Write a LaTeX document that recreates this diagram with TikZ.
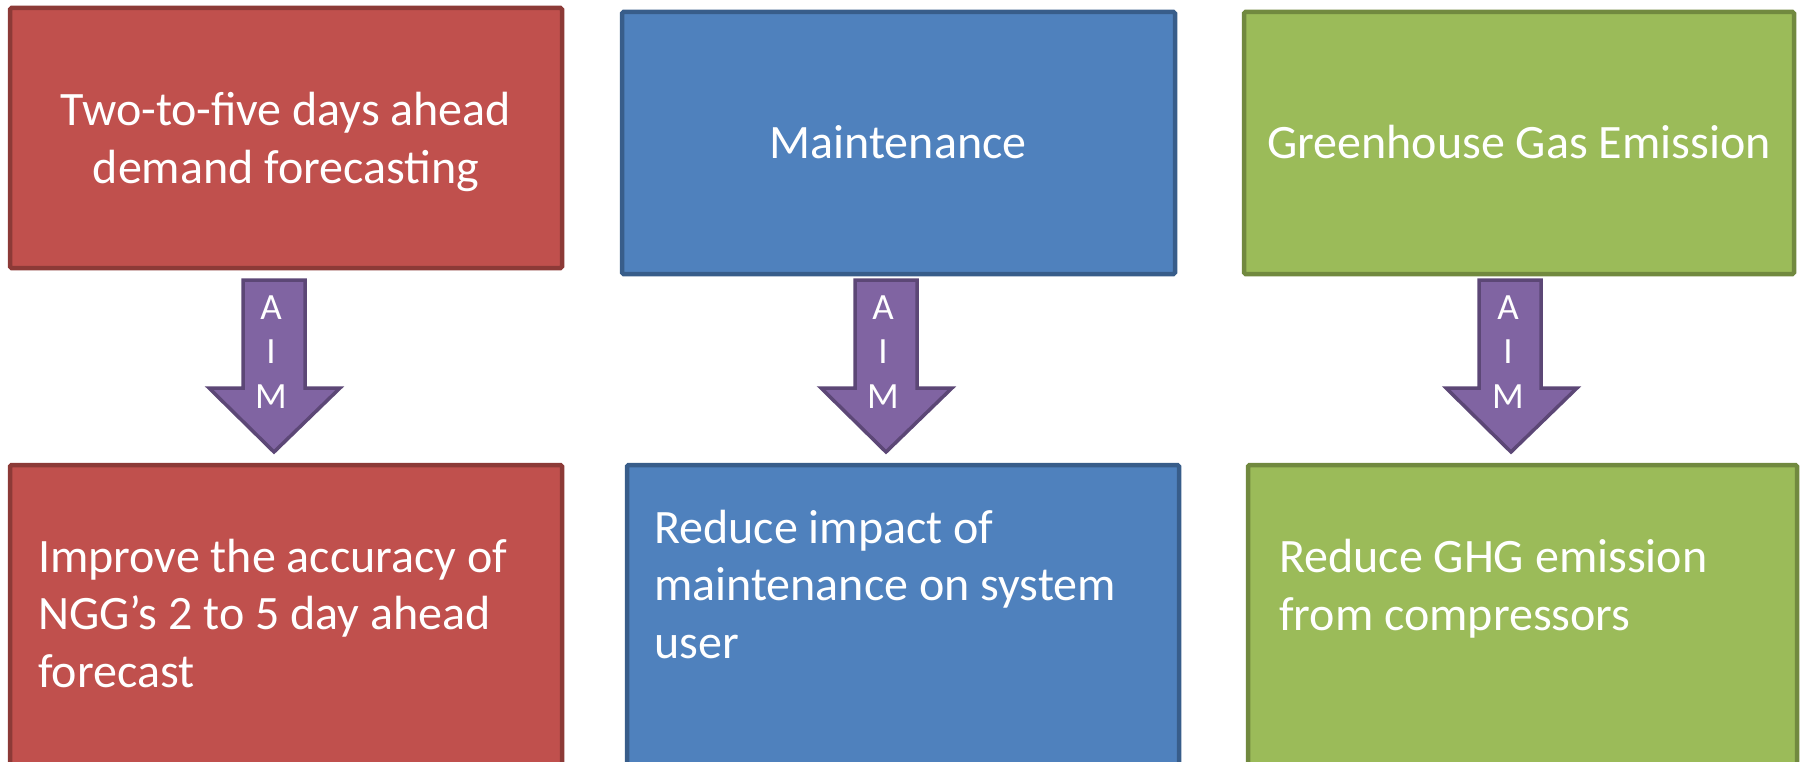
\documentclass[tikz,border=0pt]{standalone}
\usepackage{fontspec}
\setmainfont{Carlito}
\definecolor{redfill}{HTML}{C0504D}
\definecolor{redline}{HTML}{8C3A37}
\definecolor{bluefill}{HTML}{4F81BD}
\definecolor{blueline}{HTML}{385D8A}
\definecolor{greenfill}{HTML}{9BBB59}
\definecolor{greenline}{HTML}{71893F}
\definecolor{purplefill}{HTML}{8064A2}
\definecolor{purpleline}{HTML}{5C4776}
\tikzset{
  box/.style={line width=4.5pt, rounded corners=1.5pt},
  redbox/.style={box, draw=redline, fill=redfill},
  bluebox/.style={box, draw=blueline, fill=bluefill},
  greenbox/.style={box, draw=greenline, fill=greenfill},
  aimarrow/.style={draw=purpleline, fill=purplefill, line width=3.5pt, line join=miter},
  bigtext/.style={text=white, inner sep=0pt, font=\fontsize{48}{57.5}\selectfont},
  aimtext/.style={text=white, inner sep=0pt, align=center, font=\fontsize{37}{44.5}\selectfont},
}
\begin{document}
\begin{tikzpicture}[x=1pt, y=-1pt]
\clip (0,0) rectangle (1803,762);
% top boxes
\draw[redbox] (10,8) rectangle (562,268);
\draw[bluebox] (622,12) rectangle (1175,274);
\draw[greenbox] (1244,12) rectangle (1794,274);
% bottom boxes
\draw[redbox] (10,465) rectangle (562,820);
\draw[bluebox] (627,465) rectangle (1179,820);
\draw[greenbox] (1248,465) rectangle (1797,820);
% arrows
\draw[aimarrow] (243,280) -- (305,280) -- (305,388) -- (340,388) -- (274,452) -- (209,388) -- (243,388) -- cycle;
\draw[aimarrow] (855,280) -- (917,280) -- (917,388) -- (952,388) -- (886,452) -- (821,388) -- (855,388) -- cycle;
\draw[aimarrow] (1479,280) -- (1541,280) -- (1541,388) -- (1577,388) -- (1511,452) -- (1446,388) -- (1479,388) -- cycle;
% texts
\node[bigtext, align=center, anchor=base] (t1) at (286,183) {Two-to-five days ahead\\demand forecasting};
\node[bigtext, anchor=base] (t2) at (898,159) {Maintenance};
\node[bigtext, anchor=base] (t3) at (1519,159) {Greenhouse Gas Emission};
\node[aimtext, anchor=base] (a1) at (271,408) {A\\I\\M};
\node[aimtext, anchor=base] (a2) at (883,408) {A\\I\\M};
\node[aimtext, anchor=base] (a3) at (1508,408) {A\\I\\M};
\node[bigtext, align=left, anchor=base west] (b1) at (38,687) {Improve the accuracy of\\NGG’s 2 to 5 day ahead\\forecast};
\node[bigtext, align=left, anchor=base west] (b2) at (654,658) {Reduce impact of\\maintenance on system\\user};
\node[bigtext, align=left, anchor=base west] (b3) at (1279,630) {Reduce GHG emission\\from compressors};
\end{tikzpicture}
\end{document}
